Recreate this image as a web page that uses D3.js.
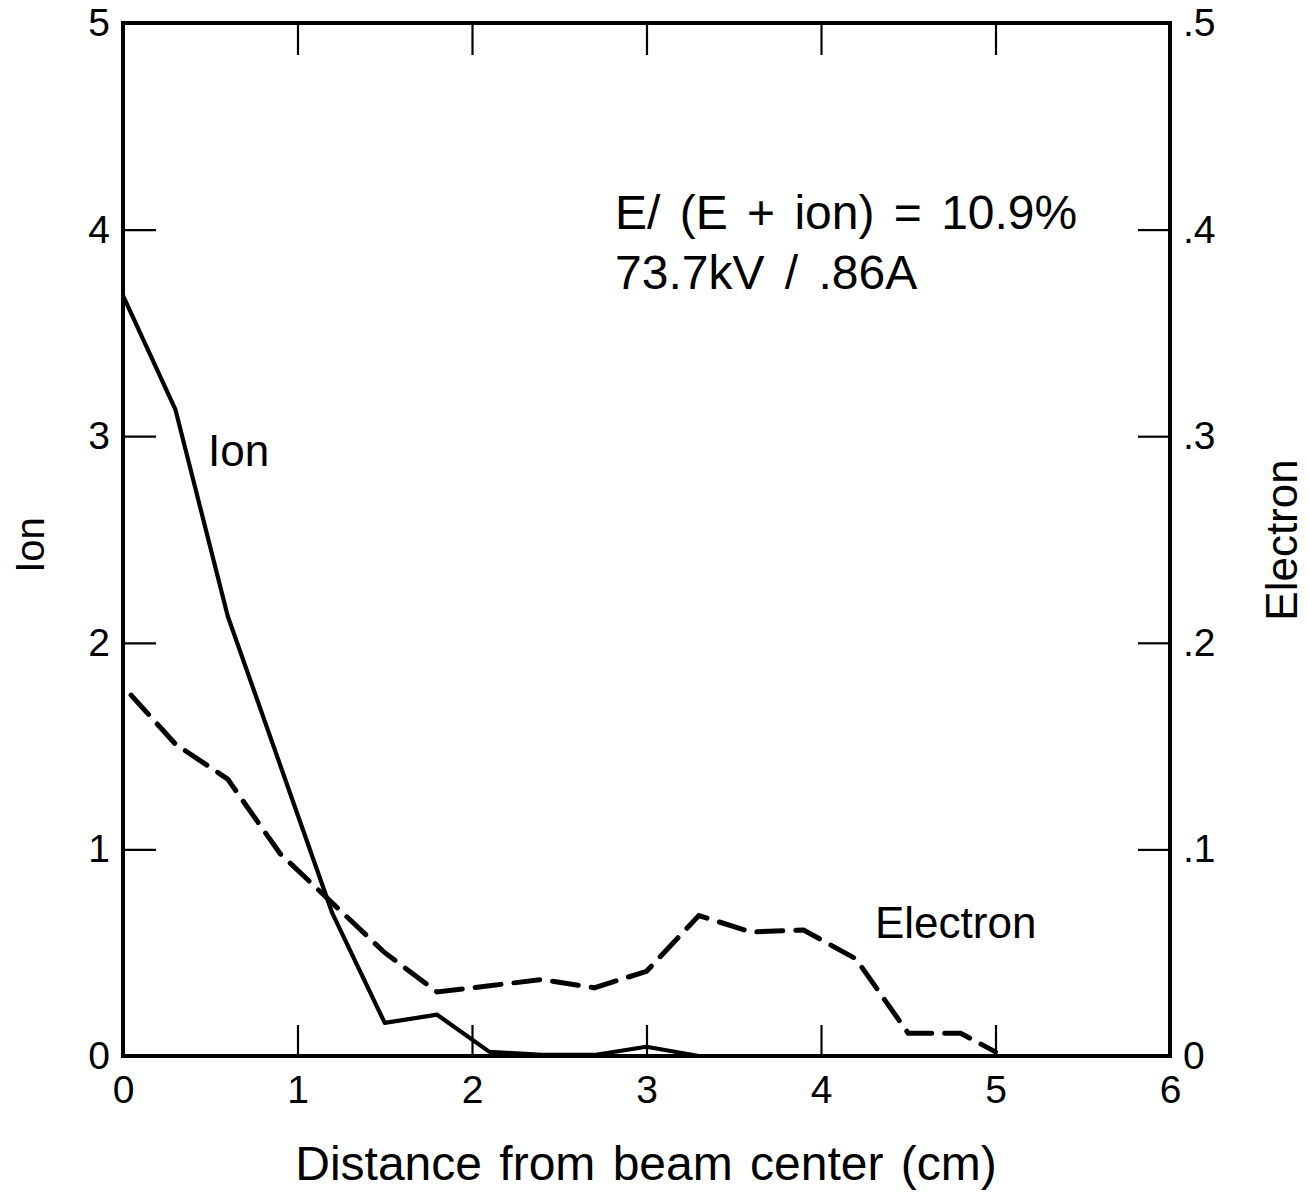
<!DOCTYPE html>
<html>
<head>
<meta charset="utf-8">
<script src="https://d3js.org/d3.v7.min.js"></script>
<style>
  body { margin: 0; background: #fff; }
  svg { display: block; font-family: "Liberation Sans", Arial, sans-serif; }
  .axis path { display: none; }
  .axis line { stroke: #000; stroke-width: 2.2; }
  .axis text { fill: #000; font-size: 39px; }
</style>
</head>
<body>
<svg></svg>
<script>
// chart data
var ionX = [0, 0.3, 0.6, 0.9, 1.2, 1.5, 1.8, 2.1, 2.4, 2.7, 3.0, 3.3];
var ionY = [3.68, 3.13, 2.13, 1.41, 0.69, 0.16, 0.20, 0.02, 0.005, 0.005, 0.045, 0.0];

var elecX = [0, 0.3, 0.6, 0.9, 1.2, 1.5, 1.8, 2.1, 2.4, 2.7, 3.0, 3.3, 3.6, 3.9, 4.2, 4.5, 4.8, 5.0];
var elecY = [0.179, 0.151, 0.134, 0.098, 0.074, 0.050, 0.031, 0.034, 0.037, 0.033, 0.041, 0.068, 0.060, 0.061, 0.047, 0.011, 0.011, 0.002];

var xTicks = [0, 1, 2, 3, 4, 5, 6];
var ionTicks = [0, 1, 2, 3, 4, 5];
var elecTicks = [0, 0.1, 0.2, 0.3, 0.4, 0.5];

const width = 1308;
const height = 1193;
var margin = {top: 23, right: 138, bottom: 137, left: 123};

var svg = d3.select("svg")
    .attr("width", width)
    .attr("height", height)

var g = svg.append("g")
    .attr("transform", "translate(" + margin.left + "," + margin.top + ")");

var w = width - margin.left - margin.right,
    h = height - margin.top - margin.bottom;

var x = d3.scaleLinear().domain([0, 6]).range([0, w]);
var yIon = d3.scaleLinear().domain([0, 5]).range([h, 0]);
var yElec = d3.scaleLinear().domain([0, 0.5]).range([h, 0]);

var elecFmt = function(d) { return d === 0 ? "0" : d3.format(".1f")(d).replace("0.", "."); };

// inward ticks on all four sides
g.append("g")
    .attr("class", "axis")
    .attr("transform", "translate(0," + h + ")")
    .call(d3.axisBottom(x).tickValues(xTicks).tickSize(-31).tickPadding(19).tickFormat(d3.format("d")));

g.append("g")
    .attr("class", "axis")
    .call(d3.axisTop(x).tickValues(xTicks).tickSize(-32).tickFormat(""));

g.append("g")
    .attr("class", "axis")
    .call(d3.axisLeft(yIon).tickValues(ionTicks).tickSize(-33).tickPadding(13).tickFormat(d3.format("d")));

g.append("g")
    .attr("class", "axis")
    .attr("transform", "translate(" + w + ",0)")
    .call(d3.axisRight(yElec).tickValues(elecTicks).tickSize(-32).tickPadding(13).tickFormat(elecFmt));

// frame
g.append("rect")
    .attr("width", w)
    .attr("height", h)
    .attr("fill", "none")
    .attr("stroke", "#000")
    .attr("stroke-width", 4);

// lines
var ionLine = d3.line()
    .x(function(d, i) { return x(ionX[i]); })
    .y(function(d) { return yIon(d); });

var elecLine = d3.line()
    .x(function(d, i) { return x(elecX[i]); })
    .y(function(d) { return yElec(d); });

g.append("path")
    .datum(ionY)
    .attr("d", ionLine)
    .attr("fill", "none")
    .attr("stroke", "#000")
    .attr("stroke-width", 4.2)
    .attr("stroke-linejoin", "round");

g.append("path")
    .datum(elecY)
    .attr("d", elecLine)
    .attr("fill", "none")
    .attr("stroke", "#000")
    .attr("stroke-width", 5)
    .attr("stroke-dasharray", "26,13")
    .attr("stroke-dashoffset", -12)
    .attr("stroke-linecap", "round");

// series labels
g.append("text")
    .attr("x", 85)
    .attr("y", 443)
    .attr("font-size", 44)
    .text("Ion");

g.append("text")
    .attr("x", 752)
    .attr("y", 915)
    .attr("font-size", 44)
    .text("Electron");

// annotation
g.append("text")
    .attr("x", 492)
    .attr("y", 206)
    .attr("font-size", 48)
    .attr("word-spacing", 6)
    .text("E/ (E + ion) = 10.9%");

g.append("text")
    .attr("x", 492)
    .attr("y", 266)
    .attr("font-size", 48)
    .attr("word-spacing", 7)
    .text("73.7kV / .86A");

// axis titles
svg.append("text")
    .attr("text-anchor", "middle")
    .attr("x", 646)
    .attr("y", 1180)
    .attr("font-size", 48)
    .attr("word-spacing", 4)
    .text("Distance  from beam center (cm)");

svg.append("text")
    .attr("text-anchor", "middle")
    .attr("transform", "translate(44,545) rotate(-90)")
    .attr("font-size", 40)
    .text("Ion");

svg.append("text")
    .attr("text-anchor", "middle")
    .attr("transform", "translate(1297,540) rotate(-90)")
    .attr("font-size", 44)
    .text("Electron");
</script>
</body>
</html>
